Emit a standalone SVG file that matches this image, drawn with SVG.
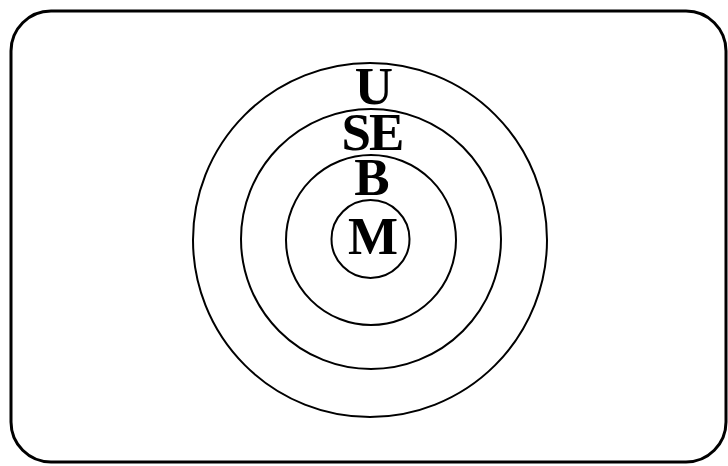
<svg xmlns="http://www.w3.org/2000/svg" width="728" height="466" viewBox="0 0 728 466">
<style>
.ring{fill:none;stroke:#000;stroke-width:2}
.lbl{font-family:"Liberation Serif","Times New Roman",serif;font-weight:bold;font-size:53px;fill:#000;text-anchor:middle}
</style>
<rect width="728" height="466" fill="#fff"/>
<rect id="frame" x="11" y="11" width="715" height="451" rx="40" ry="40" fill="none" stroke="#000" stroke-width="3"/>
<g id="U"><circle class="ring" cx="370" cy="240" r="177"/><text class="lbl" x="374" y="104">U</text></g>
<g id="SE"><circle class="ring" cx="371" cy="239" r="130"/><text class="lbl" x="372" y="150" letter-spacing="-2">SE</text></g>
<g id="B"><circle class="ring" cx="371" cy="240" r="85"/><text class="lbl" x="372" y="195">B</text></g>
<g id="M"><circle class="ring" cx="370.5" cy="239" r="39"/><text class="lbl" x="373" y="254">M</text></g>
<g id="connectors"></g>
</svg>
